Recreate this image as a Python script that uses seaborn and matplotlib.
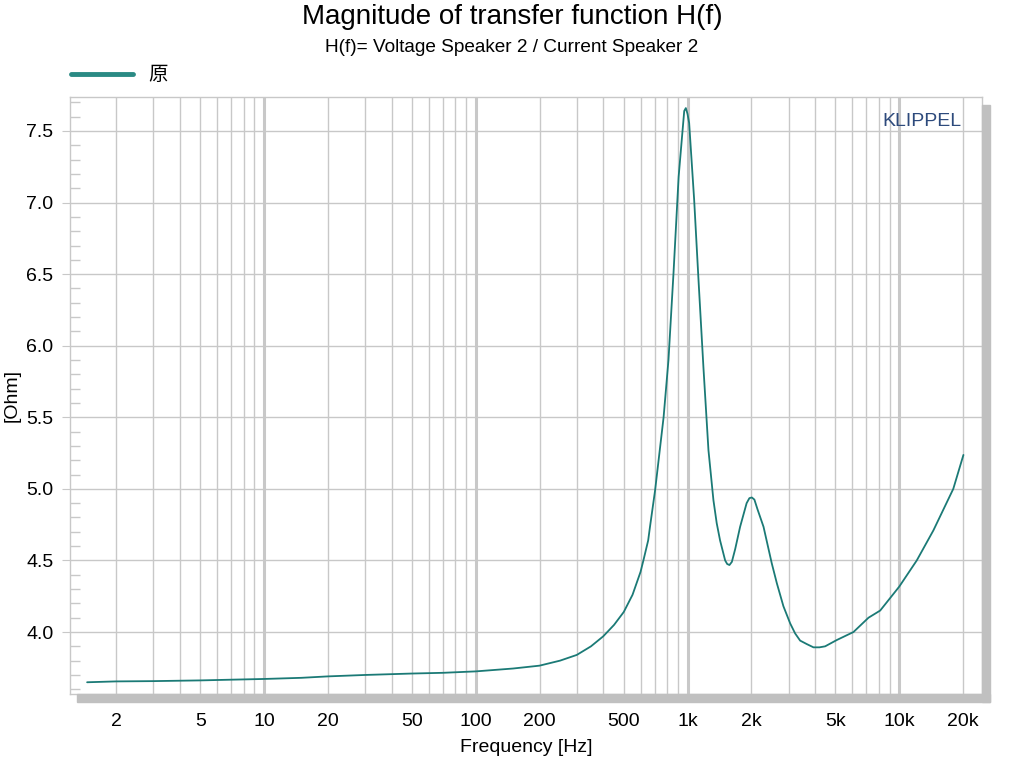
import numpy as np
import pandas as pd
import seaborn as sns
import matplotlib.pyplot as plt
from matplotlib.patches import Rectangle
from matplotlib.ticker import FixedLocator, LogLocator, NullFormatter

# values
freq_hz = [1.46, 2, 3, 5, 7, 10, 15, 20, 30, 50, 70, 100, 150, 200, 250, 300,
           350, 400, 450, 500, 550, 600, 619, 652, 665, 703, 771, 813, 859,
           908, 946, 965, 982, 1000, 1018, 1075, 1127, 1189, 1256, 1326, 1374,
           1425, 1506, 1540, 1578, 1620, 1680, 1772, 1902, 1960, 2013, 2070,
           2138, 2286, 2500, 2643, 2838, 3055, 3224, 3404, 3656, 3935, 4200,
           4468, 5070, 6080, 7160, 8130, 10000, 12100, 14500, 18000, 20100]
mag_ohm = [3.649, 3.655, 3.657, 3.662, 3.667, 3.672, 3.680, 3.690, 3.700,
           3.710, 3.715, 3.725, 3.745, 3.765, 3.800, 3.840, 3.900, 3.970,
           4.050, 4.140, 4.260, 4.420, 4.500, 4.640, 4.735, 4.990, 5.500,
           5.900, 6.510, 7.180, 7.490, 7.640, 7.660, 7.620, 7.556, 7.020,
           6.460, 5.850, 5.270, 4.920, 4.760, 4.640, 4.500, 4.475, 4.468,
           4.490, 4.580, 4.735, 4.900, 4.935, 4.940, 4.925, 4.860, 4.735,
           4.480, 4.340, 4.180, 4.060, 3.990, 3.940, 3.916, 3.893, 3.893,
           3.900, 3.944, 4.000, 4.100, 4.150, 4.317, 4.500, 4.710, 5.000,
           5.237]

x_ticks = [2, 5, 10, 20, 50, 100, 200, 500, 1000, 2000, 5000, 10000, 20000]
x_labels = ["2", "5", "10", "20", "50", "100", "200", "500", "1k", "2k", "5k", "10k", "20k"]
decades = [10, 100, 1000, 10000]
y_ticks = [4.0, 4.5, 5.0, 5.5, 6.0, 6.5, 7.0, 7.5]

df = pd.DataFrame({"Frequency": freq_hz, "Magnitude": mag_ohm})

sns.set_style("white")
plt.rcParams["font.family"] = ["Liberation Sans", "Noto Sans CJK SC", "DejaVu Sans"]
plt.rcParams["text.color"] = "black"
plt.rcParams["axes.labelcolor"] = "black"
plt.rcParams["xtick.color"] = "black"
plt.rcParams["ytick.color"] = "black"

grid_c = "#c8c8c8"
line_c = "#1b7a76"

fig = plt.figure(figsize=(10.24, 7.68), dpi=100)
ax = fig.add_axes([70 / 1024, 1 - 694 / 768, 912 / 1024, 597 / 768])

# drop shadow of the plot frame
fig.patches.append(Rectangle((77 / 1024, 1 - 702 / 768), 913 / 1024, 8 / 768,
                             transform=fig.transFigure, color="#c0c0c0", zorder=0))
fig.patches.append(Rectangle((982 / 1024, 1 - 702 / 768), 8 / 1024, 597 / 768,
                             transform=fig.transFigure, color="#c0c0c0", zorder=0))

sns.lineplot(data=df, x="Frequency", y="Magnitude", ax=ax, color=line_c,
             linewidth=1.3, label="原", zorder=5)

ax.set_xscale("log")
ax.set_xlim(1.212, 24600)
ax.set_ylim(3.567, 7.7375)

# x grid: thin at every 1..9 multiple, thicker at decades
ax.xaxis.set_major_locator(FixedLocator(x_ticks))
ax.set_xticklabels(x_labels)
ax.xaxis.set_minor_locator(LogLocator(base=10, subs=np.arange(1, 10)))
ax.xaxis.set_minor_formatter(NullFormatter())
ax.grid(True, which="both", axis="x", color=grid_c, linewidth=1.0)
for d in decades:
    ax.axvline(d, color=grid_c, linewidth=2.2, zorder=1)
ax.tick_params(axis="x", which="both", length=0, pad=14, labelsize=14)

# y axis
ax.set_yticks(y_ticks)
ax.set_yticklabels([f"{v:.1f}" for v in y_ticks])
ax.yaxis.set_minor_locator(FixedLocator(np.arange(3.6, 7.75, 0.1)))
ax.grid(True, which="major", axis="y", color=grid_c, linewidth=1.0)
ax.tick_params(axis="y", which="major", left=True, direction="out", length=6,
               color=grid_c, labelcolor="black", labelsize=14, pad=6)
ax.tick_params(axis="y", which="minor", left=True, direction="in", length=7,
               width=1.0, color=grid_c)

for s in ax.spines.values():
    s.set_color(grid_c)
    s.set_linewidth(1.0)

ax.set_xlabel("Frequency [Hz]", fontsize=14, labelpad=6)
ax.set_ylabel("[Ohm]", fontsize=14, labelpad=4)

ax.text(0.977, 0.973, "KLIPPEL", transform=ax.transAxes, ha="right", va="top",
        fontsize=14, color="#2d4a7c")

fig.text(0.5, 1 - 17 / 768, "Magnitude of transfer function H(f)", ha="center",
         va="center", fontsize=20)
fig.text(0.5, 1 - 48 / 768, "H(f)= Voltage Speaker 2 / Current Speaker 2",
         ha="center", va="center", fontsize=13.7)

leg = ax.legend(loc="lower left", bbox_to_anchor=(-0.012, 1.0), frameon=False,
                handlelength=3.2, handletextpad=0.8, borderaxespad=0.2,
                prop={"family": ["Noto Sans CJK SC", "DejaVu Sans"], "size": 14})
for h in leg.get_lines():
    h.set_linewidth(3.5)
    h.set_color("#2a8a84")

fig.savefig("out.png", dpi=100)
